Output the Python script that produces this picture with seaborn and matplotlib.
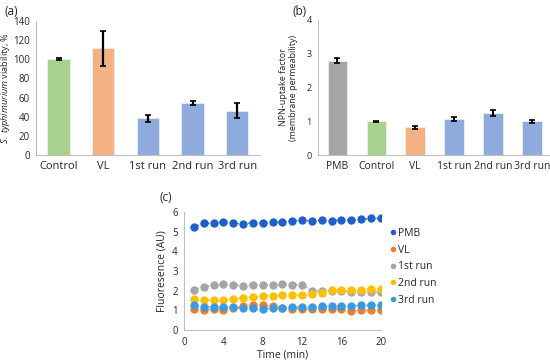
import numpy as np
import pandas as pd
import seaborn as sns
import matplotlib.pyplot as plt
from matplotlib.lines import Line2D

# Panel (a): viability
a_groups = ['Control', 'VL', '1st run', '2nd run', '3rd run']
a_values = [100, 111.5, 38.5, 54, 46.5]
a_errors = [1, 18, 3.5, 2, 8]
a_colors = ['#a9d18e', '#f4b183', '#8faadc', '#8faadc', '#8faadc']

# Panel (b): NPN uptake
b_groups = ['PMB', 'Control', 'VL', '1st run', '2nd run', '3rd run']
b_values = [2.8, 1.0, 0.82, 1.07, 1.25, 1.0]
b_errors = [0.07, 0.015, 0.05, 0.05, 0.09, 0.05]
b_colors = ['#a5a5a5', '#a9d18e', '#f4b183', '#8faadc', '#8faadc', '#8faadc']

# Panel (c): fluorescence over time
time_min = list(range(1, 21))
pmb = [5.25, 5.42, 5.42, 5.5, 5.42, 5.4, 5.45, 5.42, 5.47, 5.5,
       5.55, 5.58, 5.53, 5.58, 5.55, 5.6, 5.6, 5.62, 5.67, 5.68]
vl = [1.08, 1.03, 1.05, 1.03, 1.1, 1.2, 1.25, 1.25, 1.2, 1.12,
      1.08, 1.07, 1.07, 1.08, 1.08, 1.07, 0.98, 1.0, 1.0, 1.0]
run1 = [2.05, 2.2, 2.27, 2.32, 2.3, 2.25, 2.28, 2.3, 2.3, 2.33,
        2.3, 2.3, 2.0, 2.0, 2.0, 1.97, 1.95, 1.95, 1.93, 1.93]
run2 = [1.55, 1.52, 1.5, 1.5, 1.57, 1.63, 1.68, 1.72, 1.75, 1.77,
        1.78, 1.8, 1.83, 1.88, 2.02, 2.02, 2.05, 2.05, 2.07, 2.07]
run3 = [1.25, 1.18, 1.17, 1.15, 1.15, 1.13, 1.1, 1.08, 1.12, 1.13,
        1.15, 1.17, 1.18, 1.2, 1.2, 1.22, 1.23, 1.25, 1.27, 1.28]
series_names = ['PMB', 'VL', '1st run', '2nd run', '3rd run']
series_colors = ['#1f5fcc', '#ed7d31', '#a5a5a5', '#ffc000', '#3a9ae0']

sns.set_theme(style='white')
plt.rcParams['font.family'] = ['Open Sans', 'DejaVu Sans']
plt.rcParams['mathtext.fontset'] = 'custom'
plt.rcParams['mathtext.it'] = 'Open Sans:italic'
plt.rcParams['mathtext.rm'] = 'Open Sans'

spine_col = '#bfbfbf'


def style_axes(ax):
    sns.despine(ax=ax)
    for s in ['left', 'bottom']:
        ax.spines[s].set_color(spine_col)
        ax.spines[s].set_linewidth(0.8)
    ax.tick_params(axis='y', length=3, width=0.8, color=spine_col, pad=1.5)
    ax.tick_params(axis='x', length=0, pad=4)


fig = plt.figure(figsize=(5.5, 3.61), dpi=100)

# ---- (a)
ax_a = fig.add_axes([0.066, 0.5706, 0.406, 0.3712])
df_a = pd.DataFrame({'group': a_groups, 'value': a_values})
sns.barplot(data=df_a, x='group', y='value', hue='group', palette=a_colors,
            saturation=1, legend=False, width=0.5, ax=ax_a,
            edgecolor='#e8eef8', linewidth=0.6)
ax_a.errorbar(np.arange(len(a_groups)), a_values, yerr=a_errors, fmt='none',
              ecolor='black', elinewidth=1.6, capsize=2, capthick=1.2)
ax_a.set_ylim(0, 140)
ax_a.set_yticks(range(0, 141, 20))
ax_a.set_xlim(-0.5, 4.5)
ax_a.set_xlabel('')
ax_a.set_ylabel(r'$\it{S.\ typhimurium}$ viability, %', fontsize=6.6, labelpad=1)
ax_a.tick_params(axis='y', labelsize=7)
ax_a.tick_params(axis='x', labelsize=8)
style_axes(ax_a)
fig.text(0.008, 0.985, '(a)', fontsize=8.5, va='top')

# ---- (b)
ax_b = fig.add_axes([0.578, 0.5706, 0.421, 0.374])
df_b = pd.DataFrame({'group': b_groups, 'value': b_values})
sns.barplot(data=df_b, x='group', y='value', hue='group', palette=b_colors,
            saturation=1, legend=False, width=0.5, ax=ax_b,
            edgecolor='#eeeeee', linewidth=0.6)
ax_b.errorbar(np.arange(len(b_groups)), b_values, yerr=b_errors, fmt='none',
              ecolor='black', elinewidth=1.4, capsize=2, capthick=1.2)
ax_b.set_ylim(0, 4)
ax_b.set_yticks(range(0, 5))
ax_b.set_xlim(-0.5, 5.45)
ax_b.set_xlabel('')
ax_b.set_ylabel('NPN-uptake factor\n(membrane permeability)', fontsize=6.5, labelpad=6)
ax_b.tick_params(axis='y', labelsize=6.5)
ax_b.tick_params(axis='x', labelsize=7.5)
style_axes(ax_b)
fig.text(0.532, 0.985, '(b)', fontsize=8.5, va='top')

# ---- (c)
ax_c = fig.add_axes([0.3345, 0.0859, 0.358, 0.327])
df_c = pd.DataFrame({'time': time_min * 5,
                     'value': pmb + vl + run1 + run2 + run3,
                     'series': np.repeat(series_names, len(time_min))})
for name, col in zip(series_names, series_colors):
    sub = df_c[df_c['series'] == name]
    sns.lineplot(data=sub, x='time', y='value', color=col, linestyle=':',
                 linewidth=1.0, marker='o', markersize=6, markeredgewidth=0,
                 ax=ax_c)
ax_c.set_xlim(0, 20)
ax_c.set_ylim(0, 6)
ax_c.set_xticks(range(0, 21, 4))
ax_c.set_yticks(range(0, 7))
ax_c.set_xlabel('Time (min)', fontsize=7.5, labelpad=1)
ax_c.set_ylabel('Fluoresence (AU)', fontsize=7.5, labelpad=3)
ax_c.tick_params(axis='both', labelsize=7)
style_axes(ax_c)
ax_c.tick_params(axis='x', length=3, width=0.8, color=spine_col, pad=2)
handles = [Line2D([], [], linestyle='none', marker='o', markersize=4,
                  markeredgewidth=0, color=c) for c in series_colors]
ax_c.legend(handles, series_names, loc='upper left', bbox_to_anchor=(1.02, 0.9),
            frameon=False, fontsize=7.5, handletextpad=0.1, handlelength=0.8,
            labelspacing=0.55, borderaxespad=0)
fig.text(0.29, 0.47, '(c)', fontsize=8.5, va='top')

fig.savefig('out.png', dpi=100)
